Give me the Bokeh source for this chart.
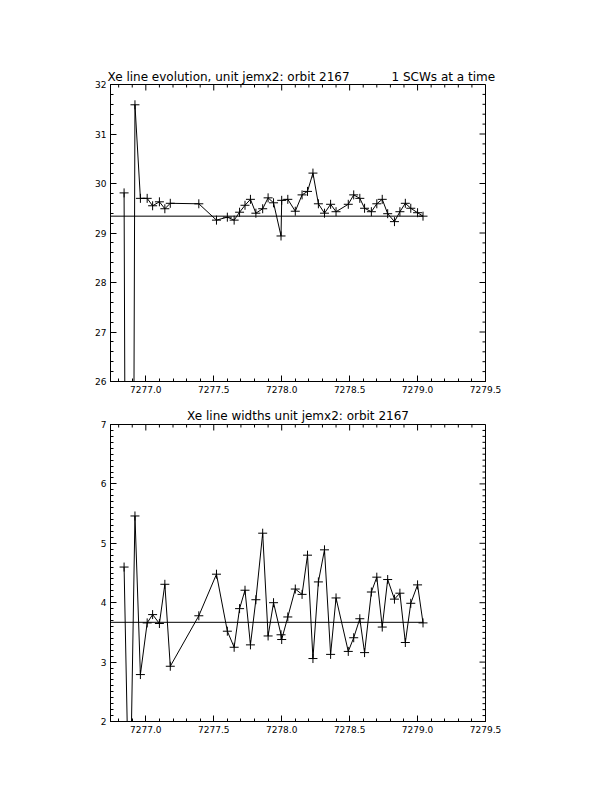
import numpy as np
from bokeh.plotting import figure
from bokeh.layouts import column
from bokeh.models import (LinearAxis, SingleIntervalTicker, NumeralTickFormatter,
                          BasicTickFormatter, Range1d, Title)
from bokeh.embed import file_html
from bokeh.resources import INLINE

# Science-window times (IJD) shared by both panels
t_ijd = [7276.84, 7276.88, 7276.92, 7276.96, 7277.01, 7277.05, 7277.10, 7277.14,
         7277.18, 7277.39, 7277.52, 7277.60, 7277.65, 7277.69, 7277.73, 7277.77,
         7277.81, 7277.86, 7277.90, 7277.94, 7277.995, 7278.00, 7278.045, 7278.10,
         7278.15, 7278.19, 7278.23, 7278.27, 7278.315, 7278.36, 7278.40, 7278.49,
         7278.53, 7278.575, 7278.61, 7278.66, 7278.70, 7278.74, 7278.78, 7278.83,
         7278.87, 7278.91, 7278.95, 7279.00, 7279.04]

# Xe line position per science window (one failed fit at 0)
xe_position = [29.81, 0.0, 31.59, 29.70, 29.70, 29.55, 29.63, 29.49,
               29.60, 29.59, 29.26, 29.32, 29.26, 29.42, 29.56, 29.68,
               29.40, 29.49, 29.71, 29.61, 28.94, 29.66, 29.68, 29.44,
               29.77, 29.84, 30.21, 29.59, 29.40, 29.58, 29.43, 29.58,
               29.77, 29.70, 29.50, 29.43, 29.59, 29.68, 29.39, 29.23,
               29.43, 29.60, 29.50, 29.41, 29.34]
xe_position_ref = 29.34

# Xe line width per science window
xe_width = [4.60, 0.0, 5.46, 2.79, 3.66, 3.80, 3.65, 4.31,
            2.93, 3.78, 4.48, 3.52, 3.25, 3.90, 4.21, 3.29,
            4.05, 5.17, 3.44, 4.00, 3.46, 3.38, 3.76, 4.23,
            4.14, 4.80, 3.06, 4.35, 4.89, 3.13, 4.08, 3.18,
            3.41, 3.73, 3.16, 4.18, 4.43, 3.59, 4.39, 4.06,
            4.16, 3.33, 3.99, 4.30, 3.66]
xe_width_ref = 3.67

X_START, X_END = 7276.74, 7279.5
FRAME_W, FRAME_H = 375, 297
FONT = "DejaVu Sans"


def style_axis(ax):
    ax.axis_line_color = "black"
    ax.axis_line_width = 1
    ax.major_tick_line_color = "black"
    ax.minor_tick_line_color = "black"
    ax.major_tick_in = 6
    ax.major_tick_out = 0
    ax.minor_tick_in = 3
    ax.minor_tick_out = 0
    ax.major_label_text_font = FONT
    ax.major_label_text_font_size = "9px"
    ax.major_label_text_color = "black"
    ax.major_label_standoff = 4


def mirror_ticks(p, y0, y1, y_step):
    """Inward ticks on the top and right frame edges (no labels)."""
    dy = (y1 - y0) / FRAME_H
    dx = (X_END - X_START) / FRAME_W
    xt = np.round(np.arange(np.ceil(X_START * 10) / 10, X_END + 1e-6, 0.1), 2)
    xmaj = np.isclose((xt * 2) % 1, 0) | np.isclose((xt * 2) % 1, 1)
    xlen = np.where(xmaj, 6, 3) * dy
    p.segment(x0=xt, y0=np.full(len(xt), y1), x1=xt, y1=y1 - xlen,
              line_color="black", line_width=1)
    yt = np.round(np.arange(y0, y1 + 1e-6, y_step), 2)
    ymaj = np.isclose(yt % 1, 0) | np.isclose(yt % 1, 1)
    ylen = np.where(ymaj, 6, 3) * dx
    p.segment(x0=np.full(len(yt), X_END), y0=yt, x1=X_END - ylen, y1=yt,
              line_color="black", line_width=1)


def panel(values, ref, y0, y1, y_minor, height, top, bottom, title):
    p = figure(width=612, height=height,
               x_range=Range1d(X_START, X_END), y_range=Range1d(y0, y1),
               x_axis_type=None, y_axis_type=None,
               output_backend="svg", toolbar_location=None,
               min_border_left=110, min_border_right=127,
               min_border_top=top, min_border_bottom=bottom)
    p.background_fill_color = "white"
    p.border_fill_color = "white"
    p.outline_line_color = "black"
    p.xgrid.visible = False
    p.ygrid.visible = False
    p.add_layout(title, "above")

    ax = LinearAxis(ticker=SingleIntervalTicker(interval=0.5, num_minor_ticks=5),
                    formatter=NumeralTickFormatter(format="0.0"))
    style_axis(ax)
    p.add_layout(ax, "below")
    ay = LinearAxis(ticker=SingleIntervalTicker(interval=1, num_minor_ticks=y_minor),
                    formatter=BasicTickFormatter())
    style_axis(ay)
    p.add_layout(ay, "left")
    mirror_ticks(p, y0, y1, 1.0 / y_minor)

    # reference level, from the left edge to the last science window
    p.line([X_START, t_ijd[-1]], [ref, ref], line_color="black", line_width=1)
    p.line(t_ijd, values, line_color="black", line_width=1)
    p.scatter(t_ijd, values, marker="cross", size=9, line_color="black", line_width=1)
    return p


gap = "\u00a0" * 11
t1 = Title(text="Xe line evolution, unit jemx2: orbit 2167" + gap + "1 SCWs at a time",
           align="left", offset=-3, standoff=1,
           text_font=FONT, text_font_size="12px", text_font_style="normal",
           text_color="black")
p1 = panel(xe_position, xe_position_ref, 26, 32, 5, 398, 84, 17, t1)

t2 = Title(text="Xe line widths unit jemx2: orbit 2167",
           align="center", offset=3, standoff=3,
           text_font=FONT, text_font_size="12px", text_font_style="normal",
           text_color="black")
p2 = panel(xe_width, xe_width_ref, 2, 7, 10, 394, 26, 71, t2)

layout = column(p1, p2, spacing=0)
open("out.html", "w").write(file_html(layout, INLINE))
